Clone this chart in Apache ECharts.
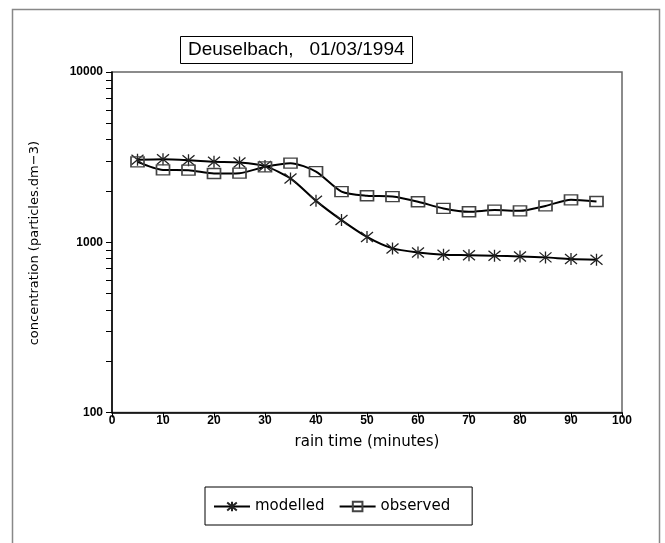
<!DOCTYPE html>
<html><head><meta charset="utf-8">
<script src="https://cdn.jsdelivr.net/npm/echarts@6/dist/echarts.min.js"></script>
<style>html,body{margin:0;padding:0;background:#fff}#c{width:665px;height:543px}</style>
</head><body><div id="c"></div>
<script>
const titleText = 'Deuselbach,   01/03/1994';
const xLabel = 'rain time (minutes)';
const yLabel = 'concentration (particles.dm\u22123)';
const times = [5,10,15,20,25,30,35,40,45,50,55,60,65,70,75,80,85,90,95];
const modelled = [3050,3075,3035,2970,2940,2800,2370,1750,1350,1075,920,870,845,840,833,826,815,797,789];
const observed = [2965,2660,2650,2535,2545,2775,2915,2600,1985,1875,1855,1730,1580,1510,1545,1530,1635,1775,1735];
const yMajor = [100,1000,10000];
const yMinor = [200,300,400,500,600,700,800,900,2000,3000,4000,5000,6000,7000,8000,9000];

const starPath = 'path://M0,-6L0,6M-5,-5L5,5M-5,5L5,-5';
const chart = echarts.init(document.getElementById('c'));
const axisFont = {fontFamily:'Liberation Sans', fontWeight:'bold', fontSize:12, color:'#000'};
chart.setOption({
  animation:false,
  title:{text:titleText,left:180,top:36,padding:[4,8,5,8],borderColor:'#000',borderWidth:1,
    textStyle:{fontFamily:'Liberation Sans',fontWeight:'normal',fontSize:19,color:'#000'}},
  graphic:[
    {type:'rect',shape:{x:12.5,y:9.5,width:647,height:545},style:{fill:'none',stroke:'#888',lineWidth:1.5}},
    {type:'text',left:28,top:141,rotation:Math.PI/2,style:{text:yLabel,fontFamily:'DejaVu Sans',fontSize:13,fill:'#000'}}
  ],
  legend:{bottom:18,left:205,itemWidth:36,itemHeight:12,itemGap:14,borderColor:'#000',borderWidth:1,
    padding:[12,22,11,8],textStyle:{fontFamily:'DejaVu Sans',fontSize:15,color:'#000'},
    data:['modelled','observed']},
  grid:{left:112,right:43,top:72,bottom:130.5,show:true,borderColor:'#666',borderWidth:1.5},
  xAxis:{type:'value',min:0,max:100,interval:10,name:xLabel,nameLocation:'middle',nameGap:22,
    nameTextStyle:{fontFamily:'DejaVu Sans',fontSize:15,color:'#000'},
    axisLine:{lineStyle:{color:'#000',width:1.5}},axisTick:{length:5,lineStyle:{color:'#000'}},
    axisLabel:Object.assign({margin:2},axisFont),splitLine:{show:false}},
  yAxis:[{type:'log',min:100,max:10000,logBase:10,
    axisLine:{show:true,lineStyle:{color:'#000',width:1.5}},
    axisTick:{show:true,length:6,customValues:yMajor.concat(yMinor),lineStyle:{color:'#000'}},
    axisLabel:Object.assign({margin:9,customValues:yMajor,formatter:v=>String(Math.round(v))},axisFont),splitLine:{show:false}}],
  series:[
    {name:'modelled',type:'line',data:times.map((t,i)=>[t,modelled[i]]),smooth:0.25,
      symbol:starPath,symbolSize:12,lineStyle:{color:'#000',width:2},
      itemStyle:{color:'transparent',borderColor:'#222',borderWidth:1.3}},
    {name:'observed',type:'line',data:times.map((t,i)=>[t,observed[i]]),smooth:0.25,
      symbol:'rect',symbolSize:[13,10],lineStyle:{color:'#000',width:2},
      itemStyle:{color:'transparent',borderColor:'#444',borderWidth:1.5}}
  ]
});
</script></body></html>
